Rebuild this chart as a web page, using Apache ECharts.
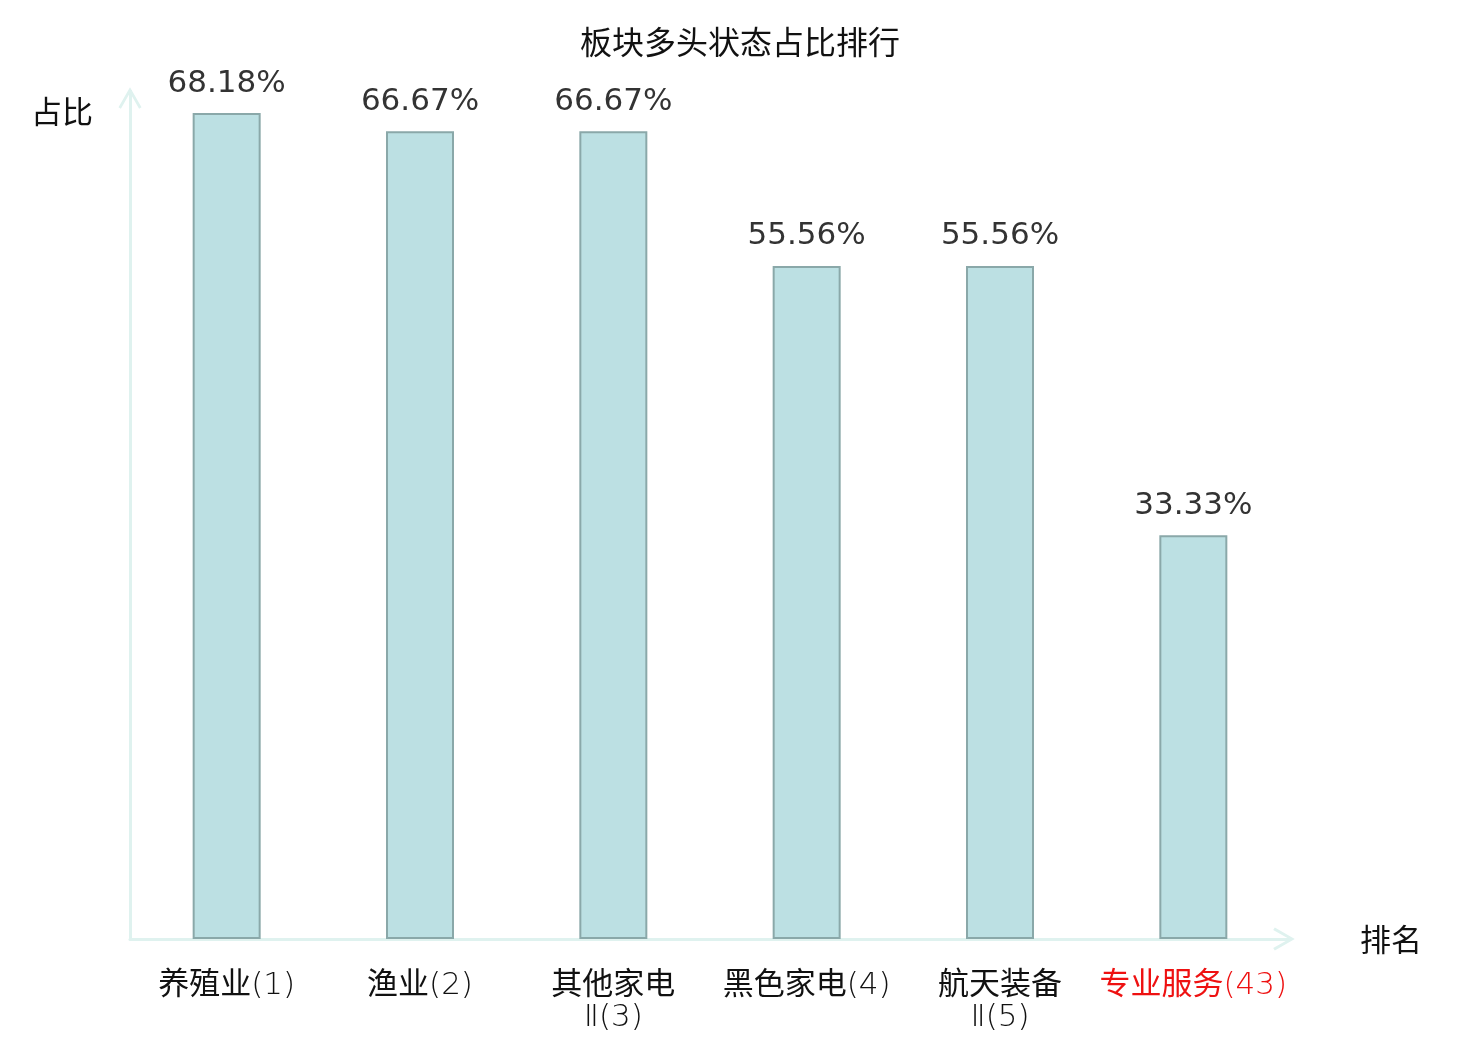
<!DOCTYPE html>
<html>
<head>
<meta charset="utf-8">
<script src="https://cdn.jsdelivr.net/npm/echarts@6/dist/echarts.min.js"></script>
<style>
  html, body { margin: 0; padding: 0; background: #fff; }
  #chart { width: 1480px; height: 1040px; }
</style>
</head>
<body>
<div id="chart"></div>
<script>
// categories (rank in brackets), last one highlighted in red
var categories = ['养殖业(1)', '渔业(2)', '其他家电\nⅡ(3)', '黑色家电(4)', '航天装备\nⅡ(5)', '专业服务(43)']
var highlight = [false, false, false, false, false, true]
// bullish share, percent
var ratios = [68.18, 66.67, 66.67, 55.56, 55.56, 33.33]

var font = "'DejaVu Sans', 'Noto Sans CJK SC', sans-serif"
var cjkFont = "'Noto Sans CJK SC', sans-serif"
var axisColor = '#dff2ef'
// open chevron arrow for the axis ends (points up, echarts rotates it)
var chevron = 'path://M11.5,0 L23,20 L20.6,21.6 L11.5,5.6 L2.4,21.6 L0,20 Z'

var myChart = echarts.init(document.getElementById('chart'))

var xData = categories.map(function (name, i) {
  return highlight[i] ? { value: name, textStyle: { color: '#ee1111' } } : name
})

// chinese part in regular weight, the rank part in a thin latin face
function splitLabel (value) {
  return value.split('\n').map(function (line) {
    var m = line.match(/^([\u4e00-\u9fff]*)(.*)$/)
    return (m[1] ? '{c|' + m[1] + '}' : '') + (m[2] ? '{n|' + m[2] + '}' : '')
  }).join('\n')
}

var option = {
  animation: false,
  title: {
    text: '板块多头状态占比排行',
    left: 'center',
    top: 21,
    textStyle: { fontFamily: cjkFont, fontSize: 32, fontWeight: 'normal', color: '#111' }
  },
  grid: { left: 130, right: 190, top: 91, bottom: 101 },
  xAxis: {
    type: 'category',
    data: xData,
    name: '排名',
    nameLocation: 'end',
    nameGap: 70,
    nameTextStyle: { fontFamily: cjkFont, fontSize: 31, color: '#111', padding: [8, 0, 0, 0] },
    axisLine: {
      lineStyle: { color: axisColor, width: 3 },
      symbol: ['none', chevron],
      symbolSize: [23, 22],
      symbolOffset: [0, -6]
    },
    axisTick: { show: false },
    axisLabel: {
      margin: 27,
      interval: 0,
      fontSize: 31,
      lineHeight: 32,
      color: '#111',
      formatter: splitLabel,
      rich: {
        c: { fontFamily: cjkFont, fontSize: 31, lineHeight: 32 },
        n: { fontFamily: "'DejaVu Sans'", fontWeight: 200, fontSize: 31, lineHeight: 32, padding: [8, 0, 0, 0] }
      }
    }
  },
  yAxis: {
    type: 'value',
    min: 0,
    max: 70,
    name: '占比',
    nameLocation: 'end',
    nameGap: -20,
    nameTextStyle: {
      fontFamily: cjkFont, fontSize: 31, color: '#111',
      align: 'right', verticalAlign: 'middle', padding: [0, 37, 0, 0]
    },
    axisLine: {
      show: true,
      lineStyle: { color: axisColor, width: 3 },
      symbol: ['none', chevron],
      symbolSize: [23, 22],
      symbolOffset: [0, -7]
    },
    axisTick: { show: false },
    axisLabel: { show: false },
    splitLine: { show: false }
  },
  series: [
    {
      name: '占比',
      type: 'bar',
      data: ratios,
      barWidth: 68,
      itemStyle: { color: '#bce0e3', borderColor: '#8aa8a9', borderWidth: 2 },
      label: {
        show: true,
        position: 'top',
        distance: 14,
        fontFamily: font,
        fontSize: 31,
        color: '#333',
        formatter: function (p) { return p.value.toFixed(2) + '%' }
      }
    }
  ]
}

myChart.setOption(option)
</script>
</body>
</html>
